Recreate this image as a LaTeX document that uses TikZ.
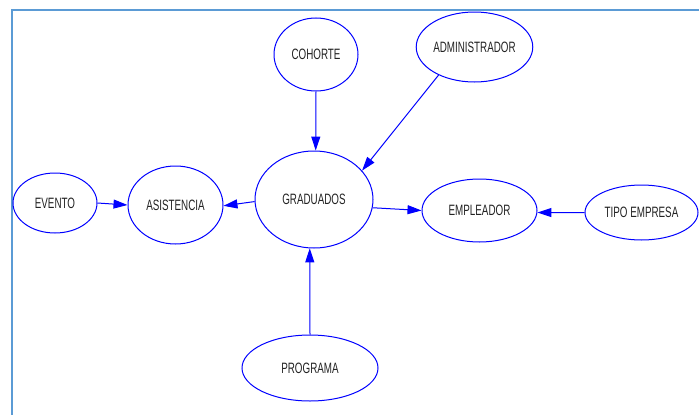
\documentclass[tikz,border=0pt]{standalone}
\usepackage{fontspec}
\setmainfont{Liberation Sans}[FakeStretch=0.655]
\usetikzlibrary{shapes.geometric,arrows.meta}
\definecolor{framecol}{HTML}{5B9BD5}
\definecolor{edgeblue}{RGB}{0,0,255}
\definecolor{labelcol}{HTML}{222222}
\begin{document}
\begin{tikzpicture}[x=1pt,y=-1pt,
  entity/.style={ellipse,draw=edgeblue,line width=1pt,inner sep=0pt,
    text=labelcol,font=\fontsize{15}{17}\selectfont},
  link/.style={draw=edgeblue,line width=1pt,
    -{Triangle[length=14pt,width=9pt]}}]
  \useasboundingbox (0,0) rectangle (699,415);
  % frame
  \draw[framecol,line width=2pt] (12,416) -- (12,10) -- (700,10);

  % entities
  \node[entity,minimum width=84pt,minimum height=73pt] (cohorte) at (316,54.5) {COHORTE};
  \node[entity,minimum width=109pt,minimum height=70pt] (admin) at (474.5,47) {ADMINISTRADOR};
  \node[entity,minimum width=118pt,minimum height=97pt] (grad) at (314,199.5) {GRADUADOS};
  \node[entity,minimum width=84pt,minimum height=60pt] (evento) at (55,203) {EVENTO};
  \node[entity,minimum width=95pt,minimum height=78pt] (asis) at (175.5,205) {ASISTENCIA};
  \node[entity,minimum width=115pt,minimum height=63pt] (empl) at (479.5,210.5) {EMPLEADOR};
  \node[entity,minimum width=113pt,minimum height=55pt] (tipo) at (641.5,212.5) {TIPO EMPRESA};
  \node[entity,minimum width=136pt,minimum height=66pt] (prog) at (310,368) {PROGRAMA};

  % relations
  \draw[link] (cohorte.south) -- (grad.88);
  \draw[link] (admin.218) -- (grad.31);
  \draw[link] (evento.east) -- (asis.west);
  \draw[link] (grad.182) -- (asis.359);
  \draw[link] (grad.352) -- (empl.180);
  \draw[link] (tipo.180) -- (empl.358);
  \draw[link] (prog.north) -- (grad.265);
\end{tikzpicture}
\end{document}
